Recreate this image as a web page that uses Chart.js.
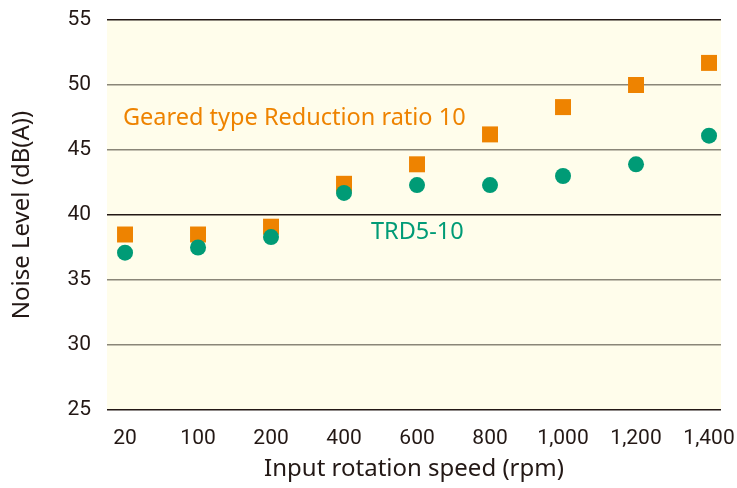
<!DOCTYPE html>
<html>
<head>
<meta charset="utf-8">
<script src="https://cdn.jsdelivr.net/npm/chart.js@4.4.0/dist/chart.umd.min.js"></script>
<style>
  html, body { margin: 0; padding: 0; background: #fff; }
  #wrap { width: 737px; height: 488px; }
</style>
</head>
<body>
<div id="wrap"><canvas id="noiseChart" width="737" height="488"></canvas></div>
<script>
    var speeds = ['20', '100', '200', '400', '600', '800', '1,000', '1,200', '1,400'];
    var gearedNoise = [38.5, 38.5, 39.1, 42.4, 43.9, 46.2, 48.3, 50.0, 51.7];
    var trdNoise = [37.1, 37.5, 38.3, 41.7, 42.3, 42.3, 43.0, 43.9, 46.1];
    var yTicks = [25, 30, 35, 40, 45, 50, 55];

    var orange = '#ee8300';
    var green = '#009b76';

    function toPoints(values) {
        return values.map(function (v, i) { return { x: i, y: v }; });
    }

    // cream plot background + the two in-plot labels
    var plotDecor = {
        id: 'plotDecor',
        beforeDraw: function (chart) {
            var a = chart.chartArea;
            var c = chart.ctx;
            c.save();
            c.fillStyle = '#fffdeb';
            c.fillRect(a.left, a.top, a.right - a.left, a.bottom - a.top);
            c.restore();
        },
        afterDatasetsDraw: function (chart) {
            var c = chart.ctx;
            c.save();
            c.font = '23.5px "Noto Sans", sans-serif';
            c.textBaseline = 'middle';
            c.textAlign = 'left';
            c.fillStyle = orange;
            c.fillText('Geared type Reduction ratio 10', 123, 118);
            c.fillStyle = green;
            c.fillText('TRD5-10', 371, 232);
            c.restore();
        }
    };

    var ctx = document.getElementById('noiseChart').getContext('2d');

    var noiseChart = new Chart(ctx, {
        type: 'scatter',
        data: {
            datasets: [{
                label: 'TRD5-10',
                data: toPoints(trdNoise),
                pointStyle: 'circle',
                pointRadius: 8,
                pointHoverRadius: 8,
                backgroundColor: green,
                borderWidth: 0
            }, {
                label: 'Geared type Reduction ratio 10',
                data: toPoints(gearedNoise),
                pointStyle: 'rect',
                pointRadius: 11.3,
                pointHoverRadius: 11.3,
                backgroundColor: orange,
                borderWidth: 0
            }]
        },
        options: {
            responsive: false,
            animation: false,
            layout: {
                padding: { top: 20, right: 16, bottom: 0, left: 0 }
            },
            plugins: {
                legend: { display: false },
                tooltip: { enabled: false }
            },
            scales: {
                x: {
                    type: 'linear',
                    min: -0.247,
                    max: 8.164,
                    afterBuildTicks: function (axis) {
                        axis.ticks = speeds.map(function (s, i) { return { value: i }; });
                    },
                    afterFit: function (axis) {
                        axis.height = 78;
                        axis.paddingLeft = 0;
                        axis.paddingRight = 0;
                    },
                    grid: { display: false, drawTicks: false },
                    border: { display: false },
                    ticks: {
                        padding: 16,
                        maxRotation: 0,
                        autoSkip: false,
                        color: '#231815',
                        font: { family: '"Liberation Sans Narrow", "Roboto", sans-serif', size: 21 },
                        callback: function (v) { return speeds[v]; }
                    },
                    title: {
                        display: true,
                        text: 'Input rotation speed (rpm)',
                        color: '#231815',
                        font: { family: '"Noto Sans", sans-serif', size: 24 },
                        padding: { top: 0, bottom: 4 }
                    }
                },
                y: {
                    min: 25,
                    max: 55,
                    afterBuildTicks: function (axis) {
                        axis.ticks = yTicks.map(function (v) { return { value: v }; });
                    },
                    afterFit: function (axis) {
                        axis.width = 107;
                        axis.paddingTop = 0;
                        axis.paddingBottom = 0;
                    },
                    grid: {
                        drawTicks: false,
                        lineWidth: 1.5,
                        color: function (c) {
                            var v = c.tick ? c.tick.value : 0;
                            return (v === 55 || v === 40 || v === 25) ? '#231815' : '#8a8678';
                        }
                    },
                    border: { display: false },
                    ticks: {
                        padding: 16,
                        color: '#231815',
                        font: { family: '"Liberation Sans Narrow", "Roboto", sans-serif', size: 21 }
                    },
                    title: {
                        display: true,
                        text: 'Noise Level (dB(A))',
                        color: '#231815',
                        font: { family: '"Noto Sans", sans-serif', size: 24 },
                        padding: { top: 8, bottom: 0 }
                    }
                }
            }
        },
        plugins: [plotDecor]
    });
</script>
</body>
</html>
